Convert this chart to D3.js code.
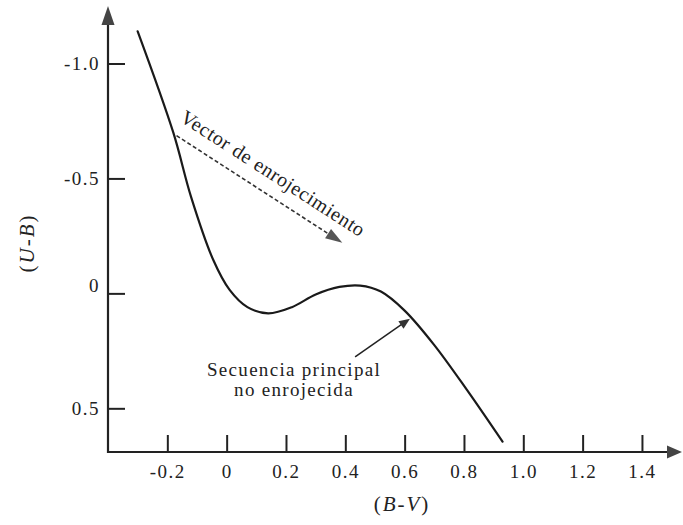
<!DOCTYPE html>
<html>
<head>
<meta charset="utf-8">
<script src="https://cdn.jsdelivr.net/npm/d3@7"></script>
<style>
  html, body { margin: 0; padding: 0; background: #fff; }
  svg { display: block; }
  text { font-family: "Liberation Serif", "Times New Roman", serif; fill: #222; }
</style>
</head>
<body>
<svg id="chart" width="683" height="525"></svg>
<script>
// Unreddened main sequence in the two-colour diagram: (B-V, U-B)
const bvValues = [-0.30, -0.18, -0.12, -0.045, 0.01, 0.07, 0.14, 0.22, 0.30, 0.38, 0.45, 0.52, 0.60, 0.70, 0.81, 0.93];
const ubValues = [-1.14, -0.70, -0.42, -0.145, -0.015, 0.06, 0.087, 0.06, 0.005, -0.028, -0.034, -0.008, 0.075, 0.225, 0.42, 0.645];

// Axis ticks and labels
const xTicks = [-0.2, 0, 0.2, 0.4, 0.6, 0.8, 1.0, 1.2, 1.4];
const xTickLabels = ["-0.2", "0", "0.2", "0.4", "0.6", "0.8", "1.0", "1.2", "1.4"];
const yTicks = [-1.0, -0.5, 0, 0.5];
const yTickLabels = ["-1.0", "-0.5", "0", "0.5"];

// Reddening vector (start and end in B-V, U-B)
const reddeningFrom = [-0.169, -0.686];
const reddeningTo = [0.39, -0.22];
// Pointer to the main sequence curve
const pointerFrom = [0.433, 0.276];
const pointerTo = [0.618, 0.11];

const svg = d3.select("#chart");

const x = d3.scaleLinear().domain([-0.4, 1.535]).range([108, 682]);
const y = d3.scaleLinear().domain([-1.25, 0.69]).range([6, 452]);

const ink = "#222";
const axisY0 = y.range()[1];
const axisX0 = x.range()[0];

// Filled triangular arrowhead at (tx, ty) pointing away from (fx, fy)
function arrowHead(g, fx, fy, tx, ty, len, half, color) {
  const a = Math.atan2(ty - fy, tx - fx);
  const bx = tx - len * Math.cos(a), by = ty - len * Math.sin(a);
  const nx = -Math.sin(a) * half, ny = Math.cos(a) * half;
  g.append("path")
    .attr("d", `M${tx},${ty}L${bx + nx},${by + ny}L${bx - nx},${by - ny}Z`)
    .attr("fill", color);
}

// X axis
const xAxis = d3.axisBottom(x)
  .tickValues(xTicks)
  .tickFormat((d, i) => xTickLabels[i])
  .tickSizeInner(-17)
  .tickSizeOuter(0)
  .tickPadding(12.5);
const gx = svg.append("g").attr("transform", `translate(0,${axisY0})`).call(xAxis);
gx.select(".domain").remove();
gx.selectAll(".tick line").attr("stroke", ink).attr("stroke-width", 2);
gx.selectAll(".tick text")
  .attr("font-size", 19)
  .attr("letter-spacing", "1.5px")
  .attr("font-family", "Liberation Serif, serif")
  .attr("fill", ink);

// Y axis
const yAxis = d3.axisLeft(y)
  .tickValues(yTicks)
  .tickFormat((d, i) => yTickLabels[i])
  .tickSizeInner(-17)
  .tickSizeOuter(0)
  .tickPadding(8);
const gy = svg.append("g").attr("transform", `translate(${axisX0},0)`).call(yAxis);
gy.select(".domain").remove();
gy.selectAll(".tick line").attr("stroke", ink).attr("stroke-width", 2);
gy.selectAll(".tick text")
  .attr("font-size", 19)
  .attr("letter-spacing", "1.5px")
  .attr("font-family", "Liberation Serif, serif")
  .attr("fill", ink)
  .attr("dy", d => d === 0 ? "-0.1em" : "0.32em");

// Axis lines with arrowheads
const axes = svg.append("g");
const xEnd = x.range()[1], yEnd = y.range()[0];
axes.append("line")
  .attr("x1", axisX0 - 1).attr("y1", axisY0)
  .attr("x2", xEnd - 10).attr("y2", axisY0)
  .attr("stroke", ink).attr("stroke-width", 2.2);
arrowHead(axes, axisX0, axisY0, xEnd, axisY0, 15, 6.5, "#444");
axes.append("line")
  .attr("x1", axisX0).attr("y1", axisY0 + 1)
  .attr("x2", axisX0).attr("y2", yEnd + 10)
  .attr("stroke", ink).attr("stroke-width", 2.2);
arrowHead(axes, axisX0, axisY0, axisX0, yEnd, 19, 6.5, "#444");

// Main sequence curve
const seq = bvValues.map((bv, i) => [bv, ubValues[i]]);
const line = d3.line()
  .x(d => x(d[0]))
  .y(d => y(d[1]))
  .curve(d3.curveCatmullRom.alpha(0.5));
svg.append("path")
  .datum(seq)
  .attr("d", line)
  .attr("fill", "none")
  .attr("stroke", "#1a1a1a")
  .attr("stroke-width", 2.2)
  .attr("stroke-linejoin", "round")
  .attr("stroke-linecap", "round");

// Reddening vector (dashed)
const rx1 = x(reddeningFrom[0]), ry1 = y(reddeningFrom[1]);
const rx2 = x(reddeningTo[0]), ry2 = y(reddeningTo[1]);
const rAng = Math.atan2(ry2 - ry1, rx2 - rx1);
const vec = svg.append("g");
vec.append("line")
  .attr("x1", rx1).attr("y1", ry1)
  .attr("x2", rx2 - 12 * Math.cos(rAng)).attr("y2", ry2 - 12 * Math.sin(rAng))
  .attr("stroke", "#333")
  .attr("stroke-width", 1.6)
  .attr("stroke-dasharray", "4,2.5");
arrowHead(vec, rx1, ry1, rx2, ry2, 17, 5.5, "#555");

vec.append("text")
  .attr("transform", `translate(${rx1},${ry1}) rotate(${rAng * 180 / Math.PI})`)
  .attr("x", -6)
  .attr("y", -14)
  .attr("font-size", 20)
  .attr("letter-spacing", "0.6px")
  .text("Vector de enrojecimiento");

// Pointer to the unreddened main sequence
const px1 = x(pointerFrom[0]), py1 = y(pointerFrom[1]);
const px2 = x(pointerTo[0]), py2 = y(pointerTo[1]);
const pAng = Math.atan2(py2 - py1, px2 - px1);
const ptr = svg.append("g");
ptr.append("line")
  .attr("x1", px1).attr("y1", py1)
  .attr("x2", px2 - 8 * Math.cos(pAng)).attr("y2", py2 - 8 * Math.sin(pAng))
  .attr("stroke", "#222")
  .attr("stroke-width", 1.5);
arrowHead(ptr, px1, py1, px2, py2, 11, 4.5, "#333");

const label = svg.append("text")
  .attr("text-anchor", "middle")
  .attr("font-size", 19)
  .attr("letter-spacing", "1.3px");
label.append("tspan").attr("x", 294).attr("y", 376).text("Secuencia principal");
label.append("tspan").attr("x", 294).attr("y", 396).text("no enrojecida");

// Axis titles
const xTitle = svg.append("text")
  .attr("x", 402).attr("y", 511)
  .attr("text-anchor", "middle")
  .attr("font-size", 21)
  .attr("letter-spacing", "2px");
xTitle.append("tspan").text("(");
xTitle.append("tspan").attr("font-style", "italic").text("B-V");
xTitle.append("tspan").text(")");

const yTitle = svg.append("text")
  .attr("transform", "translate(34,243) rotate(-90)")
  .attr("text-anchor", "middle")
  .attr("font-size", 21)
  .attr("letter-spacing", "2px");
yTitle.append("tspan").text("(");
yTitle.append("tspan").attr("font-style", "italic").text("U-B");
yTitle.append("tspan").text(")");
</script>
</body>
</html>
